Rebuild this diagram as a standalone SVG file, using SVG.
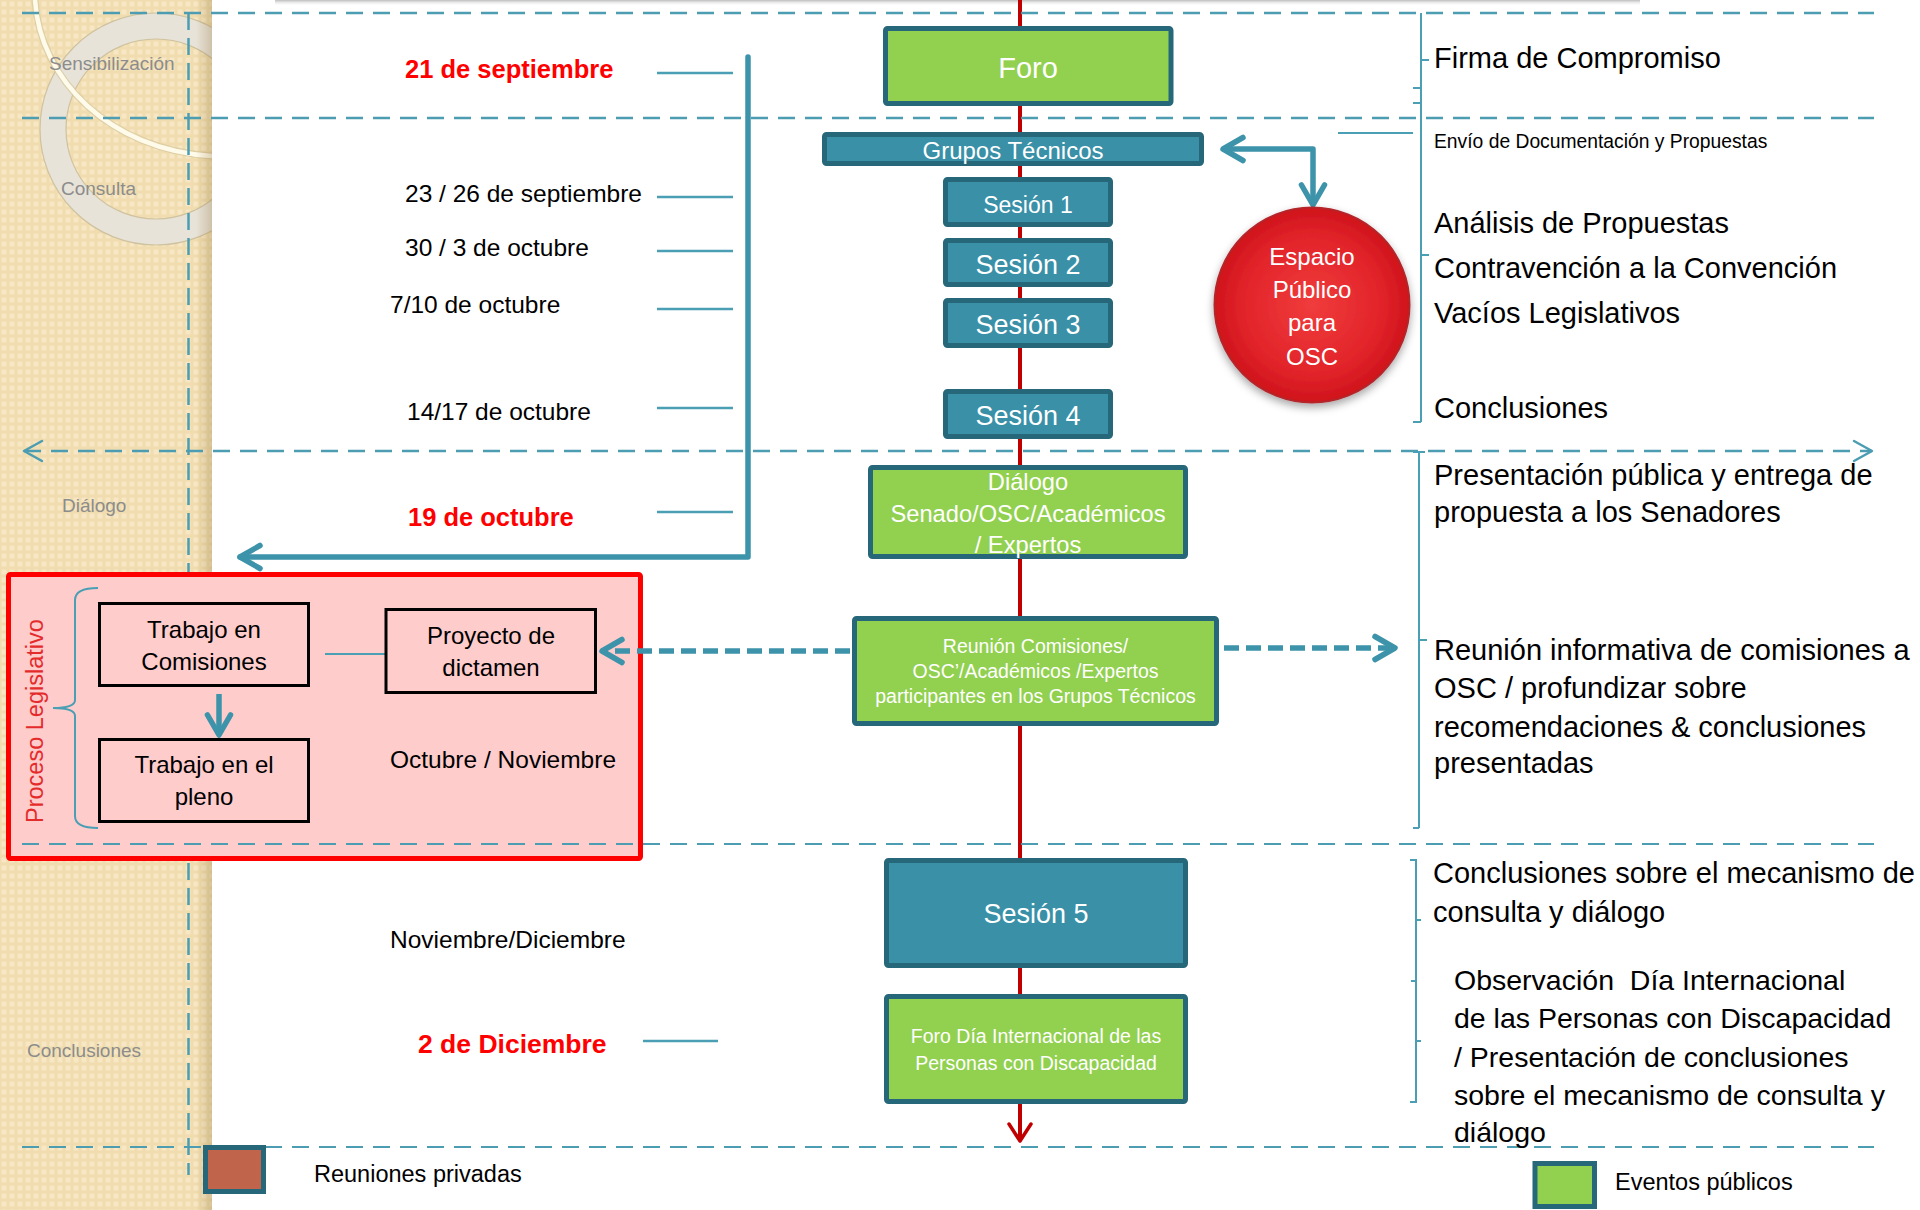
<svg xmlns="http://www.w3.org/2000/svg" width="1920" height="1210" viewBox="0 0 1920 1210">
<defs>
<style>
.t{font-family:"Liberation Sans",Arial,sans-serif;}
.side{font-family:"Liberation Sans",Arial,sans-serif;font-size:19px;fill:#8c8c8c;}
.date{font-family:"Liberation Sans",Arial,sans-serif;font-size:24.5px;fill:#000;}
.rdate{font-family:"Liberation Sans",Arial,sans-serif;font-size:25.5px;font-weight:bold;fill:#ff0000;}
.rt{font-family:"Liberation Sans",Arial,sans-serif;font-size:29px;fill:#000;}
.rs{font-family:"Liberation Sans",Arial,sans-serif;font-size:28.5px;fill:#000;}
.wt{font-family:"Liberation Sans",Arial,sans-serif;fill:#fff;text-anchor:middle;}
.bt{font-family:"Liberation Sans",Arial,sans-serif;font-size:24px;fill:#000;text-anchor:middle;}
.dash{fill:none;stroke:#4c9db2;stroke-width:2.5;stroke-dasharray:17 10;}
.thin{fill:none;stroke:#4a9fb4;stroke-width:2;}
.tick{fill:none;stroke:#4a9fb4;stroke-width:2.5;}
.thick{fill:none;stroke:#3d94aa;stroke-width:5.5;}
.thickdash{fill:none;stroke:#3d94aa;stroke-width:5.5;stroke-dasharray:15 7;}
.green{fill:#92d050;stroke:#26687a;stroke-width:5;}
.blue{fill:#3990a7;stroke:#26687a;stroke-width:5;}
.inner{fill:#ffcccc;stroke:#000;stroke-width:3;}
</style>
<pattern id="chk" width="8" height="8" patternUnits="userSpaceOnUse">
<rect width="8" height="8" fill="#f0dcae"/>
<rect x="1.5" y="1.5" width="5" height="5" fill="#f7e7c4"/>
</pattern>
<linearGradient id="edge" x1="0" y1="0" x2="1" y2="0">
<stop offset="0" stop-color="#8a6a30" stop-opacity="0"/>
<stop offset="1" stop-color="#8a6a30" stop-opacity="0.28"/>
</linearGradient>
<linearGradient id="topsh" x1="0" y1="0" x2="0" y2="1">
<stop offset="0" stop-color="#b5b5b5" stop-opacity="0.9"/>
<stop offset="1" stop-color="#ffffff" stop-opacity="0"/>
</linearGradient>
<radialGradient id="redg" cx="0.5" cy="0.5" r="0.5">
<stop offset="0" stop-color="#f03c3c"/>
<stop offset="0.7" stop-color="#e2242a"/>
<stop offset="1" stop-color="#cf141c"/>
</radialGradient>
<filter id="sh" x="-20%" y="-20%" width="140%" height="140%">
<feDropShadow dx="0" dy="4" stdDeviation="4" flood-color="#000" flood-opacity="0.35"/>
</filter>
<clipPath id="sideclip"><rect x="0" y="0" width="212" height="1210"/></clipPath>
<marker id="mthin" viewBox="-22 -13 26 26" refX="0" refY="0" markerWidth="26" markerHeight="26" markerUnits="userSpaceOnUse" orient="auto-start-reverse">
<path d="M-18,-10 L0,0 L-18,10" fill="none" stroke="#4c9db2" stroke-width="2.5" stroke-dasharray="none" stroke-linecap="round" stroke-linejoin="round"/>
</marker>
<marker id="mthick" viewBox="-26 -16 32 32" refX="0" refY="0" markerWidth="32" markerHeight="32" markerUnits="userSpaceOnUse" orient="auto-start-reverse">
<path d="M-20,-11.5 L0,0 L-20,11.5" fill="none" stroke="#3d94aa" stroke-width="5.5" stroke-dasharray="none" stroke-linecap="round" stroke-linejoin="round"/>
</marker>
<marker id="mred" viewBox="-22 -15 28 30" refX="0" refY="0" markerWidth="28" markerHeight="30" markerUnits="userSpaceOnUse" orient="auto">
<path d="M-17,-11 L0,0 L-17,11" fill="none" stroke="#c00000" stroke-width="3.5" stroke-linecap="round" stroke-linejoin="round"/>
</marker>
</defs>

<rect x="0" y="0" width="1920" height="1210" fill="#ffffff"/>
<rect x="275" y="0" width="1365" height="6" fill="url(#topsh)"/>

<g id="sidebar">
<rect x="0" y="0" width="212" height="1210" fill="url(#chk)"/>
<g clip-path="url(#sideclip)">
<path d="M272,129 A116,116 0 1 0 40,129 A116,116 0 1 0 272,129 Z M246,129 A90,90 0 1 1 66,129 A90,90 0 1 1 246,129 Z" fill="#e8e3d8" fill-rule="evenodd" stroke="#cfc29f" stroke-width="1.2"/>
<path d="M35,0 C40,80 110,150 212,156" fill="none" stroke="#d6c79e" stroke-width="7" stroke-opacity="0.7"/>
<path d="M35,0 C40,80 110,150 212,156" fill="none" stroke="#fffbea" stroke-width="4.5"/>
</g>
<rect x="196" y="0" width="16" height="1210" fill="url(#edge)"/>
<text class="side" x="49" y="70">Sensibilización</text>
<text class="side" x="61" y="195">Consulta</text>
<text class="side" x="62" y="512">Diálogo</text>
<text class="side" x="27" y="1057">Conclusiones</text>
</g>

<path class="dash" d="M188.5,13 V1175" style="stroke-dasharray:17 8"/>
<path d="M1020,0 V1141" fill="none" stroke="#c00000" stroke-width="4" marker-end="url(#mred)"/>

<g id="proceso-legislativo">
<rect x="8.5" y="574.5" width="632" height="284" rx="2" fill="#ffcccc" stroke="#ff0000" stroke-width="5"/>
<text class="t" x="43" y="823" transform="rotate(-90 43 823)" font-size="23.5" fill="#e42b2b">Proceso Legislativo</text>
<path class="thin" d="M98,588 Q75,588 75,600 V700 Q75,708 53,708 Q75,708 75,716 V816 Q75,828 98,828"/>
</g>

<g id="guides">
<path class="dash" d="M22,13 H1874"/>
<path class="dash" d="M22,118 H1874"/>
<path class="dash" d="M24,451 H1872" marker-start="url(#mthin)" marker-end="url(#mthin)"/>
<path class="dash" d="M22,844 H1874" style="stroke-width:2.2"/>
<path class="dash" d="M22,1147 H1874" style="stroke-width:2.2"/>
</g>

<g id="connectors">
<path class="thick" d="M748,57 V557 H240" stroke-linejoin="round" stroke-linecap="round" marker-end="url(#mthick)"/>
<path class="tick" d="M657,73 H733 M657,197 H733 M657,251 H733 M657,309 H733 M657,408 H733 M657,512 H733 M643,1041 H718"/>
<path class="thick" d="M1223,149 H1313 V205" stroke-linejoin="round" marker-start="url(#mthick)" marker-end="url(#mthick)"/>
<path class="thin" d="M1338,133 H1413"/>
<path class="thin" d="M1421,13 V422 M1421,60 H1429 M1413,88 H1421 M1413,103 H1421 M1421,255 H1429 M1413,422 H1421"/>
<path class="thin" d="M1413,452 H1425 M1419,452 V828 M1419,640 H1427 M1413,828 H1419"/>
<path class="thin" d="M1410,860 H1416 V1102 H1410 M1416,920 H1421 M1411,981 H1416 M1416,1041 H1421"/>
<path class="thickdash" d="M850,651 H602" marker-end="url(#mthick)"/>
<path class="thickdash" d="M1224,648 H1395" marker-end="url(#mthick)"/>
<path class="thick" d="M219,694 V735" marker-end="url(#mthick)"/>
<path class="thin" d="M325,654 H385"/>
</g>

<g id="node-foro">
<rect class="green" x="885.5" y="28.5" width="285.5" height="75" rx="2"/>
<text class="wt" x="1028" y="78" font-size="29">Foro</text>
</g>
<g id="node-grupos">
<rect class="blue" x="824.5" y="134.5" width="377" height="29" rx="2"/>
<text class="wt" x="1013" y="159" font-size="24">Grupos Técnicos</text>
</g>
<g id="node-sesion1">
<rect class="blue" x="945.5" y="179.5" width="165" height="45" rx="2"/>
<text class="wt" x="1028" y="213" font-size="23">Sesión 1</text>
</g>
<g id="node-sesion2">
<rect class="blue" x="945.5" y="240.5" width="165" height="44" rx="2"/>
<text class="wt" x="1028" y="274" font-size="27">Sesión 2</text>
</g>
<g id="node-sesion3">
<rect class="blue" x="945.5" y="300.5" width="165" height="45" rx="2"/>
<text class="wt" x="1028" y="334" font-size="27">Sesión 3</text>
</g>
<g id="node-sesion4">
<rect class="blue" x="945.5" y="391.5" width="165" height="45" rx="2"/>
<text class="wt" x="1028" y="425" font-size="27">Sesión 4</text>
</g>
<g id="node-espacio">
<circle cx="1312" cy="305" r="97.5" fill="url(#redg)" stroke="#b3262b" stroke-width="2" filter="url(#sh)"/>
<text class="wt" x="1312" y="265" font-size="24">Espacio</text>
<text class="wt" x="1312" y="298" font-size="24">Público</text>
<text class="wt" x="1312" y="331" font-size="24">para</text>
<text class="wt" x="1312" y="365" font-size="24">OSC</text>
</g>
<g id="node-dialogo">
<rect class="green" x="870.5" y="467.5" width="315" height="89" rx="2"/>
<text class="wt" x="1028" y="490" font-size="23.7">Diálogo</text>
<text class="wt" x="1028" y="522" font-size="23.7">Senado/OSC/Académicos</text>
<text class="wt" x="1028" y="553" font-size="23.7">/ Expertos</text>
</g>
<g id="node-reunion">
<rect class="green" x="854.5" y="618.5" width="362" height="105" rx="2"/>
<text class="wt" x="1035.5" y="653" font-size="19.5">Reunión Comisiones/</text>
<text class="wt" x="1035.5" y="678" font-size="19.5">OSC’/Académicos /Expertos</text>
<text class="wt" x="1035.5" y="703" font-size="19.5">participantes en los Grupos Técnicos</text>
</g>
<g id="node-sesion5">
<rect class="blue" x="886.5" y="860.5" width="299" height="105" rx="2"/>
<text class="wt" x="1036" y="923" font-size="27">Sesión 5</text>
</g>
<g id="node-foro-dia">
<rect class="green" x="886.5" y="996.5" width="299" height="105" rx="2"/>
<text class="wt" x="1036" y="1043" font-size="19.5">Foro Día Internacional de las</text>
<text class="wt" x="1036" y="1070" font-size="19.5">Personas con Discapacidad</text>
</g>
<g id="node-comisiones">
<rect class="inner" x="99.5" y="603.5" width="209" height="82"/>
<text class="bt" x="204" y="638">Trabajo en</text>
<text class="bt" x="204" y="670">Comisiones</text>
</g>
<g id="node-pleno">
<rect class="inner" x="99.5" y="739.5" width="209" height="82"/>
<text class="bt" x="204" y="773">Trabajo en el</text>
<text class="bt" x="204" y="805">pleno</text>
</g>
<g id="node-proyecto">
<rect class="inner" x="386" y="609.5" width="209.5" height="83"/>
<text class="bt" x="491" y="644">Proyecto de</text>
<text class="bt" x="491" y="676">dictamen</text>
</g>

<g id="dates">
<text class="rdate" x="405" y="78">21 de septiembre</text>
<text class="date" x="405" y="202">23 / 26 de septiembre</text>
<text class="date" x="405" y="256">30 / 3 de octubre</text>
<text class="date" x="390" y="313">7/10 de octubre</text>
<text class="date" x="407" y="420">14/17 de octubre</text>
<text class="rdate" x="408" y="526">19 de octubre</text>
<text class="date" x="390" y="768">Octubre / Noviembre</text>
<text class="date" x="390" y="948">Noviembre/Diciembre</text>
<text class="rdate" x="418" y="1053" style="font-size:26.5px">2 de Diciembre</text>
</g>

<g id="descriptions">
<text class="rt" x="1434" y="68">Firma de Compromiso</text>
<text class="t" x="1434" y="148" font-size="19.3" fill="#000">Envío de Documentación y Propuestas</text>
<text class="rt" x="1434" y="233">Análisis de Propuestas</text>
<text class="rt" x="1434" y="278">Contravención a la Convención</text>
<text class="rt" x="1434" y="323">Vacíos Legislativos</text>
<text class="rt" x="1434" y="418">Conclusiones</text>
<text class="rt" x="1434" y="485">Presentación pública y entrega de</text>
<text class="rt" x="1434" y="522">propuesta a los Senadores</text>
<text class="rt" x="1434" y="660">Reunión informativa de comisiones a</text>
<text class="rt" x="1434" y="698">OSC / profundizar sobre</text>
<text class="rt" x="1434" y="737">recomendaciones &amp; conclusiones</text>
<text class="rt" x="1434" y="773">presentadas</text>
<text class="rt" x="1433" y="883">Conclusiones sobre el mecanismo de</text>
<text class="rt" x="1433" y="922">consulta y diálogo</text>
<text class="rs" x="1454" y="990" style="white-space:pre">Observación  Día Internacional</text>
<text class="rs" x="1454" y="1028">de las Personas con Discapacidad</text>
<text class="rs" x="1454" y="1067">/ Presentación de conclusiones</text>
<text class="rs" x="1454" y="1105">sobre el mecanismo de consulta y</text>
<text class="rs" x="1454" y="1142">diálogo</text>
</g>

<g id="legend">
<rect x="205.5" y="1147.5" width="58" height="44" fill="#c0654b" stroke="#26687a" stroke-width="5"/>
<text class="t" x="314" y="1182" font-size="23.5" fill="#000">Reuniones privadas</text>
<rect x="1535" y="1163.5" width="59.5" height="43" fill="#92d050" stroke="#26687a" stroke-width="5"/>
<text class="t" x="1615" y="1190" font-size="23.5" fill="#000">Eventos públicos</text>
</g>
</svg>
